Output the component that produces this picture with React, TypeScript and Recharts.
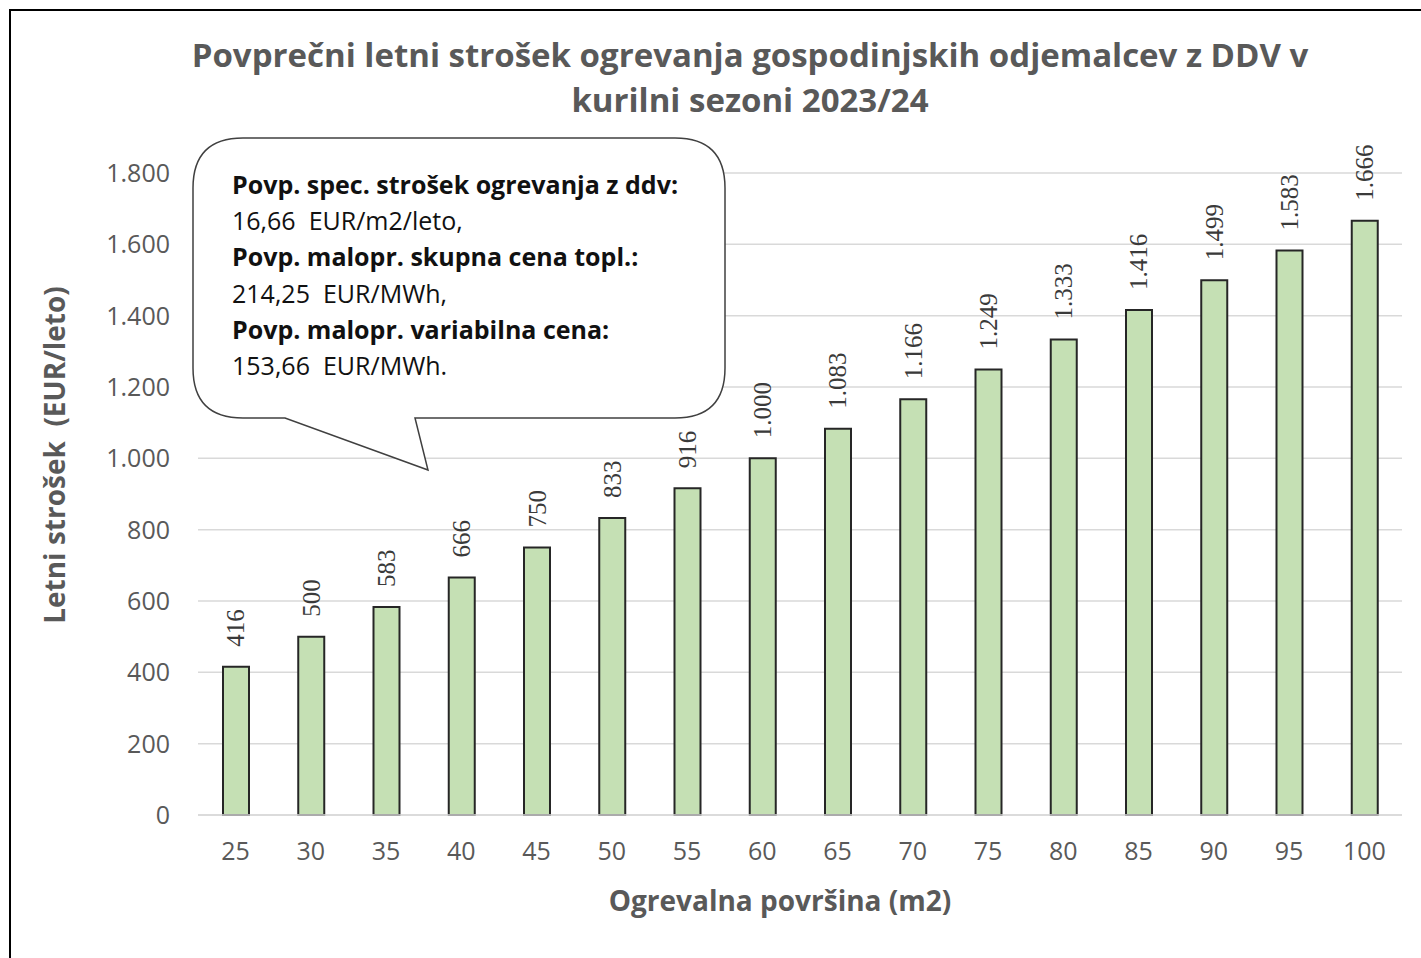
import { BarChart, Bar, XAxis, YAxis, CartesianGrid, LabelList } from "recharts";

const areas = ["25", "30", "35", "40", "45", "50", "55", "60", "65", "70", "75", "80", "85", "90", "95", "100"];
const costs = [416, 500, 583, 666, 750, 833, 916, 1000, 1083, 1166, 1249, 1333, 1416, 1499, 1583, 1666];
const yTicks = [0, 200, 400, 600, 800, 1000, 1200, 1400, 1600, 1800];

const titleLines = [
  "Povprečni letni strošek ogrevanja gospodinjskih odjemalcev z DDV v",
  "kurilni sezoni 2023/24",
];
const calloutLines = [
  { text: "Povp. spec. strošek ogrevanja z ddv:", bold: true },
  { text: "16,66  EUR/m2/leto,", bold: false },
  { text: "Povp. malopr. skupna cena topl.:", bold: true },
  { text: "214,25  EUR/MWh,", bold: false },
  { text: "Povp. malopr. variabilna cena:", bold: true },
  { text: "153,66  EUR/MWh.", bold: false },
];

const data = areas.map((a, i) => ({ area: a, cost: costs[i] }));

const fmt = (v: number) => String(v).replace(/\B(?=(\d{3})+(?!\d))/g, ".");

const FONT = "'Open Sans', Lato, sans-serif";
const GREY = "#595959";

const ValueLabel = (props: any) => {
  const { x, y, width, value } = props;
  const cx = x + width / 2;
  const ty = y - 20;
  return (
    <text
      x={cx}
      y={ty}
      transform={`rotate(-90, ${cx}, ${ty})`}
      textAnchor="start"
      dominantBaseline="central"
      fontFamily="'Liberation Serif', serif"
      fontSize={25}
      fill="#3a3a3a"
    >
      {fmt(value)}
    </text>
  );
};

export default function App() {
  return (
    <div style={{ position: "absolute", left: 0, top: 0, width: 1421, height: 958, background: "#fff" }}>
      <BarChart
        width={1421}
        height={958}
        data={data}
        margin={{ top: 173, right: 19, bottom: 103, left: 118 }}
        barCategoryGap={0}
      >
        <CartesianGrid vertical={false} stroke="#d9d9d9" strokeWidth={1.5} />
        <XAxis
          dataKey="area"
          height={40}
          axisLine={{ stroke: "#d9d9d9", strokeWidth: 1.5 }}
          tickLine={false}
          tickSize={0}
          tickMargin={27}
          tick={{ fill: GREY, fontSize: 25, fontFamily: FONT }}
          interval={0}
        />
        <YAxis
          width={80}
          domain={[0, 1800]}
          ticks={yTicks}
          axisLine={false}
          tickLine={false}
          tickSize={0}
          tickMargin={28}
          tickFormatter={fmt}
          tick={{ fill: GREY, fontSize: 25, fontFamily: FONT }}
        />
        <Bar dataKey="cost" fill="#c5e0b4" stroke="#262626" strokeWidth={2} barSize={26} isAnimationActive={false}>
          <LabelList dataKey="cost" content={ValueLabel} />
        </Bar>
      </BarChart>

      <svg
        width={1421}
        height={958}
        style={{ position: "absolute", left: 0, top: 0, pointerEvents: "none" }}
      >
        <path d="M10,958 L10,10 L1421,10" fill="none" stroke="#000" strokeWidth={2} />
        {titleLines.map((t, i) => (
          <text
            key={t}
            x={750}
            y={67 + i * 45}
            textAnchor="middle"
            fontFamily={FONT}
            fontWeight="bold"
            fontSize={33}
            fill={GREY}
          >
            {t}
          </text>
        ))}
        <text
          x={780}
          y={911}
          textAnchor="middle"
          fontFamily={FONT}
          fontWeight="bold"
          fontSize={28}
          fill={GREY}
        >
          Ogrevalna površina (m2)
        </text>
        <text
          x={65}
          y={455}
          transform="rotate(-90, 65, 455)"
          textAnchor="middle"
          fontFamily={FONT}
          fontWeight="bold"
          fontSize={28}
          fill={GREY}
          style={{ whiteSpace: "pre" }}
        >
          Letni strošek  (EUR/leto)
        </text>
        <path
          d="M243,138 L675,138 Q725,138 725,188 L725,368 Q725,418 675,418 L415,418 L428,470 L285,418 L243,418 Q193,418 193,368 L193,188 Q193,138 243,138 Z"
          fill="#fff"
          stroke="#404040"
          strokeWidth={1.5}
        />
        {calloutLines.map((l, i) => (
          <text
            key={l.text}
            x={232}
            y={194 + i * 36.2}
            fontFamily={FONT}
            fontWeight={l.bold ? "bold" : "normal"}
            fontSize={25}
            fill="#111"
            style={{ whiteSpace: "pre" }}
          >
            {l.text}
          </text>
        ))}
      </svg>
    </div>
  );
}
